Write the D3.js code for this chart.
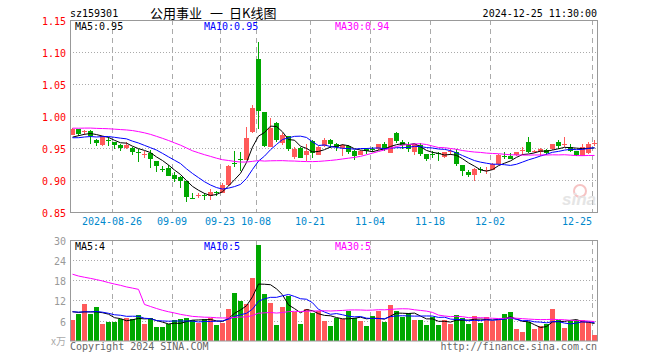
<!DOCTYPE html>
<html>
<head>
<meta charset="utf-8">
<script src="https://cdn.jsdelivr.net/npm/d3@7"></script>
<style>
  body { margin: 0; background: #fff; }
  text { font-family: "DejaVu Sans Mono", monospace; font-size: 10px; }
</style>
</head>
<body>
<div id="container"></div>
<script>
// trading days shown (2024)
var dates = [
  '08-15','08-16','08-19','08-20','08-21','08-22','08-23','08-26','08-27','08-28','08-29','08-30',
  '09-02','09-03','09-04','09-05','09-06','09-09','09-10','09-11','09-12','09-13','09-18','09-19','09-20',
  '09-23','09-24','09-25','09-26','09-27','09-30',
  '10-08','10-09','10-10','10-11','10-14','10-15','10-16','10-17','10-18','10-21','10-22','10-23','10-24',
  '10-25','10-28','10-29','10-30','10-31',
  '11-01','11-04','11-05','11-06','11-07','11-08','11-11','11-12','11-13','11-14','11-15','11-18','11-19',
  '11-20','11-21','11-22','11-25','11-26','11-27','11-28','11-29',
  '12-02','12-03','12-04','12-05','12-06','12-09','12-10','12-11','12-12','12-13','12-16','12-17','12-18',
  '12-19','12-20','12-23','12-24','12-25'
]

var opens = [
  0.971,0.979,0.976,0.977,0.963,0.954,0.963,0.959,0.954,0.950,0.950,0.943,0.939,0.942,0.929,0.917,
  0.919,0.908,0.905,0.898,0.872,0.876,0.877,0.876,0.882,0.880,0.892,0.926,0.933,0.932,0.975,1.089,
  1.006,0.953,0.989,0.958,0.968,0.935,0.950,0.940,0.961,0.940,0.952,0.963,0.956,0.950,0.953,0.946,
  0.940,0.949,0.948,0.948,0.956,0.942,0.973,0.960,0.954,0.944,0.954,0.940,0.941,0.942,0.935,0.944,
  0.944,0.923,0.913,0.908,0.917,0.914,0.916,0.925,0.937,0.938,0.939,0.946,0.959,0.944,0.943,0.947,
  0.948,0.960,0.955,0.952,0.945,0.938,0.942,0.957
]
var closes = [
  0.980,0.971,0.977,0.969,0.958,0.968,0.961,0.954,0.950,0.955,0.944,0.942,0.940,0.933,0.921,0.916,
  0.907,0.901,0.898,0.873,0.871,0.877,0.876,0.882,0.881,0.892,0.922,0.925,0.932,0.966,1.012,1.008,
  0.953,0.982,0.963,0.970,0.948,0.948,0.935,0.946,0.942,0.952,0.962,0.956,0.951,0.955,0.944,0.938,
  0.946,0.946,0.947,0.956,0.948,0.965,0.960,0.955,0.948,0.956,0.940,0.932,0.940,0.940,0.943,0.945,
  0.925,0.913,0.908,0.917,0.916,0.915,0.925,0.939,0.936,0.934,0.943,0.947,0.943,0.945,0.948,0.942,
  0.956,0.953,0.956,0.946,0.938,0.952,0.956,0.958
]
var highs = [
  0.981,0.980,0.978,0.978,0.964,0.969,0.967,0.960,0.957,0.960,0.951,0.948,0.946,0.947,0.930,0.922,
  0.924,0.912,0.906,0.899,0.879,0.880,0.880,0.886,0.883,0.896,0.924,0.945,0.943,0.983,1.017,1.115,
  1.006,0.997,0.990,0.974,0.969,0.952,0.951,0.957,0.962,0.953,0.965,0.964,0.958,0.956,0.954,0.947,
  0.947,0.950,0.951,0.957,0.960,0.966,0.975,0.963,0.959,0.957,0.958,0.941,0.945,0.944,0.944,0.948,
  0.949,0.924,0.916,0.918,0.920,0.920,0.926,0.940,0.944,0.942,0.944,0.952,0.967,0.947,0.950,0.948,
  0.957,0.962,0.967,0.956,0.946,0.956,0.960,0.962
]
var lows = [
  0.970,0.968,0.971,0.957,0.953,0.953,0.953,0.948,0.945,0.948,0.939,0.928,0.935,0.919,0.912,0.912,
  0.906,0.897,0.888,0.866,0.871,0.872,0.869,0.869,0.875,0.879,0.891,0.920,0.914,0.932,0.974,0.980,
  0.951,0.951,0.959,0.954,0.946,0.933,0.934,0.930,0.935,0.939,0.951,0.950,0.946,0.938,0.940,0.932,
  0.939,0.940,0.944,0.947,0.946,0.942,0.958,0.949,0.943,0.939,0.938,0.930,0.934,0.929,0.934,0.939,
  0.922,0.906,0.904,0.899,0.911,0.909,0.915,0.924,0.933,0.933,0.937,0.939,0.942,0.942,0.937,0.939,
  0.947,0.948,0.952,0.944,0.937,0.937,0.941,0.953
]
// volume, 万手
var volumes = [
  6.2,7.9,10.9,7.9,10.0,5.0,5.7,5.7,6.5,6.8,6.5,7.7,5.0,6.8,4.1,4.1,
  4.9,6.2,6.5,6.8,6.2,5.2,6.5,6.9,4.7,5.4,9.5,14.3,11.9,10.9,18.8,28.5,
  14.0,11.2,4.7,10.0,13.4,8.5,5.0,9.4,8.4,8.9,6.0,4.4,6.8,6.5,8.9,6.8,
  6.0,4.4,7.4,8.7,5.6,10.6,8.9,7.1,8.3,6.2,6.2,4.7,7.1,4.7,6.2,5.0,
  7.7,6.8,5.0,7.4,5.3,7.1,5.9,6.2,7.9,8.6,3.5,2.6,5.6,3.5,4.4,5.0,
  9.5,6.2,3.7,5.9,6.2,6.2,5.6,1.7
]
// the 29 sessions before 08-15, needed for the moving averages
var earlierCloses = [
  0.975,0.970,0.968,0.972,0.976,0.970,0.974,0.969,0.973,0.973,
  0.990,0.998,1.006,1.012,1.010,1.008,1.012,1.006,1.004,1.004,
  0.970,0.966,0.962,0.965,0.962,0.960,0.966,0.963,0.966
]
var earlierVolumes = [
  24,22,18,21,17,20,19,18,21,17,19,
  140,25,22,20,18,17,19,16,15,
  9,10,8,9,7,9,10,8,10
]

var priceTicks = [1.15, 1.10, 1.05, 1.00, 0.95, 0.90, 0.85]
var volTicks = [30, 24, 18, 12, 6]
var dateTicks = ['08-26', '09-09', '09-23', '10-08', '10-21', '11-04', '11-18', '12-02', '12-25']
var dateTickLabels = ['2024-08-26', '09-09', '09-23', '10-08', '10-21', '11-04', '11-18', '12-02', '12-25']
var priceMaLabels = ['MA5:0.95', 'MA10:0.95', 'MA30:0.94']
var volMaLabels = ['MA5:4', 'MA10:5', 'MA30:5']

var RED = '#ff5a5a', GREEN = '#00a800', GRID = '#aaa'
var maColors = ['#000', '#0000ff', '#ff00ff']

function movingAvg(prior, values, n) {
  var all = prior.concat(values), off = prior.length
  return values.map(function (d, i) {
    return d3.mean(all.slice(off + i - n + 1, off + i + 1))
  })
}

var svg = d3.select('#container').append('svg').attr('width', 660).attr('height', 360)

var x = d3.scaleBand().domain(d3.range(dates.length)).range([70, 70 + 6 * dates.length])
var y = d3.scaleLinear().domain([0.85, 1.15]).range([212, 20])
var yv = d3.scaleLinear().domain([0, 30]).range([340.7, 240])
var L = 70, R = 597

function px(v) { return Math.round(v) + 0.5 }

// header
svg.append('text').attr('x', 70).attr('y', 17).text('sz159301')
var title = svg.append('text').attr('y', 18)
  .style('font-family', '"Noto Sans CJK SC", sans-serif').style('font-size', '13px')
title.append('tspan').attr('x', 150).text('公用事业')
title.append('tspan').attr('x', 210).text('一')
title.append('tspan').attr('x', 229).text('日K线图')
svg.append('text').attr('x', R).attr('y', 17).attr('text-anchor', 'end').text('2024-12-25 11:30:00')

function panel(top, bottom, scale, ticks) {
  var g = svg.append('g')
  g.selectAll('line.h').data(ticks.slice(1)).enter().append('line')
    .attr('x1', L).attr('x2', R)
    .attr('y1', function (d) { return px(scale(d)) })
    .attr('y2', function (d) { return px(scale(d)) })
    .attr('stroke', GRID).attr('stroke-dasharray', '1,2')
  g.selectAll('line.v').data(dateTicks).enter().append('line')
    .attr('x1', function (d) { return px(x(dates.indexOf(d))) })
    .attr('x2', function (d) { return px(x(dates.indexOf(d))) })
    .attr('y1', top).attr('y2', bottom)
    .attr('stroke', GRID).attr('stroke-dasharray', '5,4')
  return g
}

// ---- price panel ----
panel(20, 212, y, priceTicks)

svg.selectAll('text.py').data(priceTicks).enter().append('text')
  .attr('x', 66).attr('y', function (d) { return y(d) + 5 })
  .attr('text-anchor', 'end').attr('fill', '#f00')
  .text(function (d) { return d.toFixed(2) })

svg.selectAll('text.dx').data(dateTicks).enter().append('text')
  .attr('x', function (d, i) { return i === dateTicks.length - 1 ? 592 : x(dates.indexOf(d)) })
  .attr('y', 225).attr('fill', '#0088cc')
  .attr('text-anchor', function (d, i) { return i === dateTicks.length - 1 ? 'end' : 'middle' })
  .text(function (d, i) { return dateTickLabels[i] })

// sina watermark
var wm = svg.append('g').attr('opacity', 0.5)
wm.append('circle').attr('cx', 580).attr('cy', 191).attr('r', 6).attr('fill', 'none').attr('stroke', '#e88').attr('stroke-width', 2)
wm.append('text').attr('x', 596).attr('y', 205).attr('text-anchor', 'end')
  .style('font-family', 'Arial, sans-serif').style('font-size', '17px').style('font-style', 'italic').style('font-weight', 'bold')
  .attr('fill', '#ccc').text('sina')

var candles = svg.append('g').attr('shape-rendering', 'crispEdges')
candles.selectAll('line').data(dates).enter().append('line')
  .attr('x1', function (d, i) { return x(i) + 2.5 })
  .attr('x2', function (d, i) { return x(i) + 2.5 })
  .attr('y1', function (d, i) { return y(highs[i]) })
  .attr('y2', function (d, i) { return y(lows[i]) })
  .attr('stroke', function (d, i) { return closes[i] >= opens[i] ? RED : GREEN })
candles.selectAll('rect').data(dates).enter().append('rect')
  .attr('x', function (d, i) { return x(i) })
  .attr('width', 5)
  .attr('y', function (d, i) { return Math.round(y(Math.max(opens[i], closes[i]))) })
  .attr('height', function (d, i) { return Math.max(1, Math.round(Math.abs(y(opens[i]) - y(closes[i])))) })
  .attr('fill', function (d, i) { return closes[i] >= opens[i] ? RED : GREEN })

;[5, 10, 30].forEach(function (n, k) {
  var ma = movingAvg(earlierCloses, closes, n)
  svg.append('path').datum(ma)
    .attr('d', d3.line().x(function (d, i) { return x(i) + 2.5 }).y(function (d) { return y(d) }))
    .attr('fill', 'none').attr('stroke', maColors[k]).attr('stroke-width', 1)
})

svg.append('rect').attr('x', L + 0.5).attr('y', 20.5).attr('width', R - L).attr('height', 192)
  .attr('fill', 'none').attr('stroke', '#999')

var maX = [75, 204, 335]
priceMaLabels.forEach(function (t, k) {
  svg.append('text').attr('x', maX[k]).attr('y', 29.5).attr('fill', maColors[k]).text(t)
})

// ---- volume panel ----
panel(240, 341, yv, volTicks)

svg.selectAll('text.vy').data(volTicks).enter().append('text')
  .attr('x', 66).attr('y', function (d) { return yv(d) + 5 })
  .attr('text-anchor', 'end').attr('fill', '#999')
  .text(function (d) { return d })
svg.append('text').attr('x', 66).attr('y', 345).attr('text-anchor', 'end').attr('fill', '#aaa')
  .style('font-family', '"Noto Sans CJK SC", sans-serif').text('x万')

svg.append('g').attr('shape-rendering', 'crispEdges')
  .selectAll('rect').data(volumes).enter().append('rect')
  .attr('x', function (d, i) { return x(i) })
  .attr('width', 5)
  .attr('y', function (d) { return Math.round(yv(d)) })
  .attr('height', function (d) { return 341 - Math.round(yv(d)) })
  .attr('fill', function (d, i) { return closes[i] >= opens[i] ? RED : GREEN })

;[5, 10, 30].forEach(function (n, k) {
  var ma = movingAvg(earlierVolumes, volumes, n)
  svg.append('path').datum(ma)
    .attr('d', d3.line().x(function (d, i) { return x(i) + 2.5 }).y(function (d) { return yv(d) }))
    .attr('fill', 'none').attr('stroke', maColors[k]).attr('stroke-width', 1)
})

svg.append('rect').attr('x', L + 0.5).attr('y', 240.5).attr('width', R - L).attr('height', 100.5)
  .attr('fill', 'none').attr('stroke', '#999')

volMaLabels.forEach(function (t, k) {
  svg.append('text').attr('x', maX[k]).attr('y', 250).attr('fill', maColors[k]).text(t)
})

// footer
svg.append('text').attr('x', 70).attr('y', 350).attr('fill', '#666').text('Copyright 2024 SINA.COM')
svg.append('text').attr('x', R).attr('y', 350).attr('text-anchor', 'end').attr('fill', '#666').text('http://finance.sina.com.cn')
</script>
</body>
</html>
